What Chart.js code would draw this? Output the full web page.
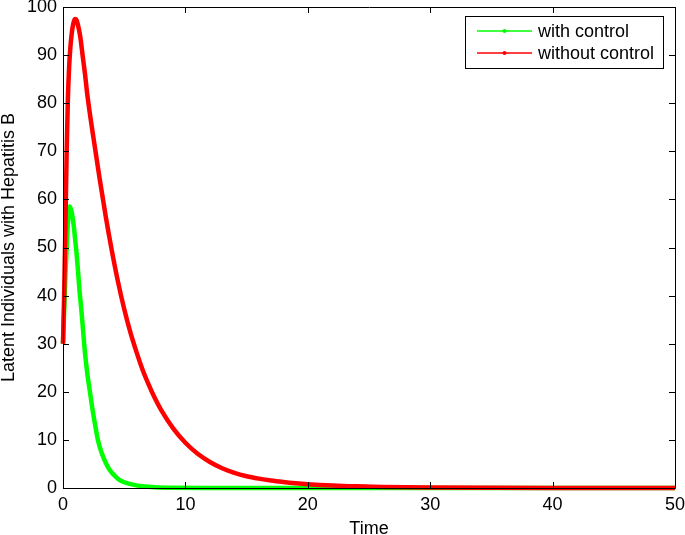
<!DOCTYPE html>
<html>
<head>
<meta charset="utf-8">
<script src="https://cdn.jsdelivr.net/npm/chart.js@4/dist/chart.umd.min.js"></script>
<style>
  body { margin: 0; background: #fff; }
  canvas { display: block; }
</style>
</head>
<body>
<canvas id="chartLatentes" width="685" height="535"></canvas>
<script>
const FONT = "'Liberation Sans', Arial, sans-serif";

// valores
const tiempoSinControl = [0, 0.1, 0.2, 0.3, 0.4, 0.5, 0.6, 0.7, 0.8, 0.9, 1.0, 1.1, 1.2, 1.4, 1.6, 1.8, 2.0, 2.5, 3.0, 3.5, 4.0, 4.5, 5.0, 5.5, 6.0, 6.5, 7.0, 7.5, 8.0, 9.0, 10, 11, 12, 13, 14, 15, 16, 17, 18, 19, 20, 22, 24, 26, 28, 30, 35, 40, 45, 50];
const latentesSinControl = [30, 41, 55, 70, 81, 87.5, 91.5, 94.2, 96, 97.1, 97.5, 97.3, 96.5, 94, 90, 86, 81.5, 72.6, 64.2, 56.3, 49.2, 42.8, 37.2, 32.4, 28.3, 24.6, 21.5, 18.7, 16.3, 12.4, 9.4, 7.1, 5.4, 4.1, 3.15, 2.45, 1.95, 1.55, 1.25, 1.0, 0.8, 0.52, 0.34, 0.22, 0.14, 0.09, 0.03, 0.01, 0, 0];

const tiempoConControl = [0, 0.1, 0.2, 0.3, 0.4, 0.5, 0.55, 0.6, 0.7, 0.8, 0.9, 1.0, 1.1, 1.2, 1.35, 1.5, 1.8, 2.0, 2.2, 2.4, 2.6, 2.85, 3.2, 3.5, 3.8, 4.2, 4.6, 5.0, 5.7, 6.5, 7.5, 9, 12, 20, 30, 40, 50];
const latentesConControl = [30, 37, 44, 50, 55, 58, 58.5, 58.3, 57.5, 56, 54, 51.5, 49, 46, 41, 37, 28, 23.5, 20, 16.5, 13.5, 10, 7, 5.2, 3.8, 2.6, 1.7, 1.2, 0.7, 0.35, 0.15, 0.05, 0.02, 0, 0, 0, 0];

const ticksTiempo = [0, 10, 20, 30, 40, 50];
const ticksLatentes = [0, 10, 20, 30, 40, 50, 60, 70, 80, 90, 100];

const etiquetasLeyenda = ["with control", "without control"];
const coloresLeyenda = ["#00ff00", "#ff0000"];

function aPuntos(xs, ys) {
  return xs.map((x, i) => ({ x: x, y: ys[i] }));
}

// caja de ejes estilo matlab con marcas hacia adentro
const pluginEjes = {
  id: "pluginEjes",
  afterDraw(chart) {
    const ctx = chart.ctx;
    const area = chart.chartArea;
    const sx = chart.scales.x;
    const sy = chart.scales.y;
    const largo = 6;

    ctx.save();
    ctx.strokeStyle = "#000";
    ctx.lineWidth = 1;
    ctx.beginPath();
    ctx.rect(area.left + 0.5, area.top + 0.5, area.right - area.left, area.bottom - area.top);
    ctx.stroke();

    ctx.beginPath();
    ticksTiempo.forEach(v => {
      const px = Math.round(sx.getPixelForValue(v)) + 0.5;
      ctx.moveTo(px, area.bottom);
      ctx.lineTo(px, area.bottom - largo);
      ctx.moveTo(px, area.top);
      ctx.lineTo(px, area.top + largo);
    });
    ticksLatentes.forEach(v => {
      const py = Math.round(sy.getPixelForValue(v)) + 0.5;
      ctx.moveTo(area.left, py);
      ctx.lineTo(area.left + largo, py);
      ctx.moveTo(area.right, py);
      ctx.lineTo(area.right - largo, py);
    });
    ctx.stroke();

    // leyenda
    const caja = { x: 465.5, y: 16.5, w: 198, h: 52 };
    ctx.fillStyle = "#fff";
    ctx.fillRect(caja.x, caja.y, caja.w, caja.h);
    ctx.strokeStyle = "#000";
    ctx.strokeRect(caja.x, caja.y, caja.w, caja.h);

    ctx.font = "18px " + FONT;
    ctx.textBaseline = "middle";
    ctx.textAlign = "left";
    etiquetasLeyenda.forEach((texto, i) => {
      const y = 31 + i * 22;
      ctx.strokeStyle = coloresLeyenda[i];
      ctx.lineWidth = 1.3;
      ctx.beginPath();
      ctx.moveTo(477, y);
      ctx.lineTo(532, y);
      ctx.stroke();
      ctx.fillStyle = coloresLeyenda[i];
      ctx.beginPath();
      ctx.arc(504.5, y, 2, 0, Math.PI * 2);
      ctx.fill();
      ctx.fillStyle = "#000";
      ctx.fillText(texto, 538, y + 1);
    });
    ctx.restore();
  }
};

new Chart(document.getElementById("chartLatentes"), {
  type: "scatter",
  data: {
    datasets: [
      {
        label: etiquetasLeyenda[0],
        data: aPuntos(tiempoConControl, latentesConControl),
        showLine: true,
        borderColor: coloresLeyenda[0],
        borderWidth: 4.5,
        pointRadius: 0,
        cubicInterpolationMode: "monotone",
        clip: false,
        order: 1
      },
      {
        label: etiquetasLeyenda[1],
        data: aPuntos(tiempoSinControl, latentesSinControl),
        showLine: true,
        borderColor: coloresLeyenda[1],
        borderWidth: 4.5,
        pointRadius: 0,
        cubicInterpolationMode: "monotone",
        clip: false,
        order: 0
      }
    ]
  },
  options: {
    responsive: false,
    animation: false,
    events: [],
    layout: { padding: { top: 7, right: 10, left: 0, bottom: 0 } },
    plugins: {
      legend: { display: false },
      tooltip: { enabled: false }
    },
    scales: {
      x: {
        type: "linear",
        min: 0,
        max: 50,
        grid: { display: false, drawTicks: false },
        border: { display: false },
        afterBuildTicks: scale => { scale.ticks = ticksTiempo.map(v => ({ value: v })); },
        afterFit: scale => {
          scale.height = 47;
          scale.paddingLeft = 0;
          scale.paddingRight = 0;
        },
        ticks: { color: "#000", padding: 6, font: { family: FONT, size: 18 }, maxRotation: 0 },
        title: { display: true, text: "Time", color: "#000", padding: 0, font: { family: FONT, size: 18, lineHeight: 0.65 } }
      },
      y: {
        type: "linear",
        min: 0,
        max: 100,
        grid: { display: false, drawTicks: false },
        border: { display: false },
        afterBuildTicks: scale => { scale.ticks = ticksLatentes.map(v => ({ value: v })); },
        afterFit: scale => {
          scale.width = 63;
          scale.paddingTop = 0;
          scale.paddingBottom = 0;
        },
        ticks: { color: "#000", padding: 6, font: { family: FONT, size: 18 } },
        title: { display: true, text: "Latent Individuals with Hepatitis B", color: "#000", padding: 0, font: { family: FONT, size: 18, lineHeight: 1 } }
      }
    }
  },
  plugins: [pluginEjes]
});
</script>
</body>
</html>
